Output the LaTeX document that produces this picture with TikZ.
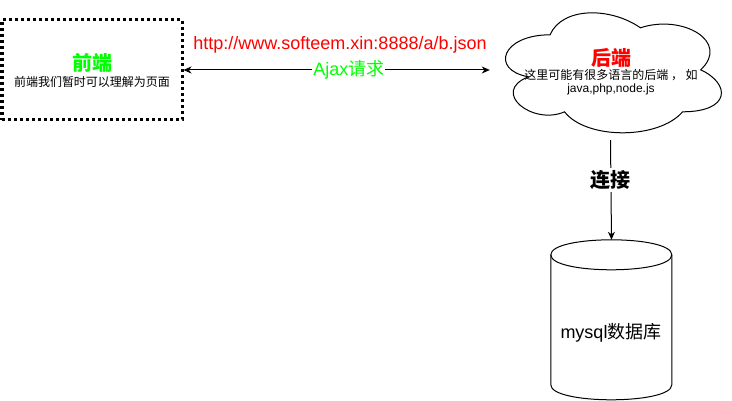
\documentclass[tikz,border=0pt]{standalone}
\usepackage{fontspec}
\setmainfont{Liberation Sans}
\newfontfamily\cjk{Noto Sans CJK SC}
\usetikzlibrary{positioning}
\usetikzlibrary{arrows.meta}
\definecolor{frontc}{RGB}{0,255,0}
\definecolor{backc}{RGB}{255,0,0}

\tikzset{
  frontbox/.style={draw, line width=3pt, dash pattern=on 3pt off 3pt, shape=rectangle, minimum width=180pt, minimum height=100pt},
  backbox/.style={shape=rectangle, minimum width=241pt, minimum height=140pt},
  dbbox/.style={shape=rectangle, minimum width=121pt, minimum height=160pt},
  bigtitle/.style={font=\cjk\bfseries\fontsize{20}{22}\selectfont},
  smallnote/.style={font=\fontsize{12}{13}\selectfont, align=center},
  linklabel/.style={font=\fontsize{18}{20}\selectfont},
  tip/.style={line width=1pt, arrows={#1}},
}

\begin{document}
\begin{tikzpicture}[x=1pt,y=-1pt, >={Stealth[length=8pt,width=7pt,inset=2.5pt]}]
\useasboundingbox (0,0) rectangle (732,401);

\node[frontbox] (front) at (92,70) {};
\node[bigtitle, text=frontc] (fronttitle) at (92,63) {前端};
\node[smallnote] (frontnote) at (92,82) {\cjk 前端我们暂时可以理解为页面};

\node[backbox] (back) at (610.5,70) {};
%cloud outline
\draw[line width=1pt, shift={(back.north west)}, x=241pt, y=-140pt]
  (0.25,0.25) .. controls (0.05,0.25) and (0,0.5) .. (0.16,0.55)
  .. controls (0,0.66) and (0.18,0.9) .. (0.31,0.8)
  .. controls (0.4,1) and (0.7,1) .. (0.8,0.8)
  .. controls (1,0.8) and (1,0.6) .. (0.875,0.5)
  .. controls (1,0.3) and (0.8,0.1) .. (0.625,0.2)
  .. controls (0.5,0.05) and (0.3,0.05) .. cycle;
\node[bigtitle, text=backc] (backtitle) at (611,58) {后端};
\node[smallnote] (backnote) at (611,82) {{\cjk 这里可能有很多语言的后端 ， 如}\\java,php,node.js};

\node[dbbox] (db) at (611.5,320) {};
%cylinder outline
\draw[line width=1pt, shift={(db.north west)}, x=1pt, y=-1pt]
  (0,15) .. controls (0,-5) and (121,-5) .. (121,15) -- (121,145)
  .. controls (121,165) and (0,165) .. (0,145) -- cycle;
\draw[line width=1pt, shift={(db.north west)}, x=1pt, y=-1pt]
  (0,15) .. controls (0,35) and (121,35) .. (121,15);
\node[linklabel] (dbname) at (611,333) {mysql{\cjk 数据库}};

\draw[tip={<->}] (front) -- (back)
  node[pos=0.54, fill=white, inner sep=1pt, linklabel, text=frontc] (ajax) {Ajax{\cjk 请求}};
\node[linklabel, text=backc] (url) at (340,45) {http://www.softeem.xin:8888/a/b.json};

\draw[tip={->}] (back.south) -- (db.north)
  node[pos=0.4, fill=white, inner sep=2pt, bigtitle] (link) {连接};

\end{tikzpicture}
\end{document}
